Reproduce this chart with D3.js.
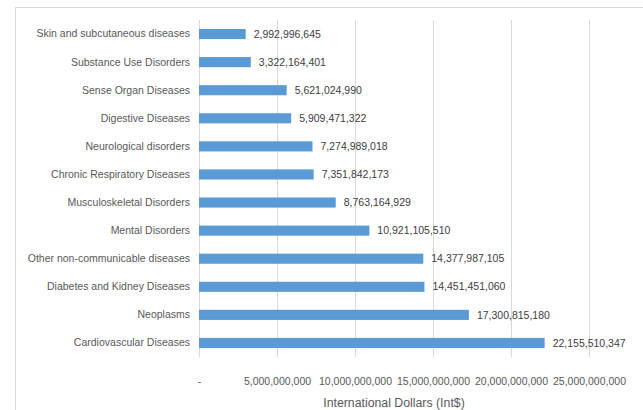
<!DOCTYPE html>
<html><head><meta charset="utf-8">
<script src="https://cdn.jsdelivr.net/npm/d3@7"></script>
<style>body{margin:0;background:#fff}svg{display:block}</style>
</head><body>
<svg id="c" width="643" height="410"></svg>
<script>
const categories = ["Skin and subcutaneous diseases","Substance Use Disorders","Sense Organ Diseases","Digestive Diseases","Neurological disorders","Chronic Respiratory Diseases","Musculoskeletal Disorders","Mental Disorders","Other non-communicable diseases","Diabetes and Kidney Diseases","Neoplasms","Cardiovascular Diseases"];
const values = [2992996645,3322164401,5621024990,5909471322,7274989018,7351842173,8763164929,10921105510,14377987105,14451451060,17300815180,22155510347];
const tickValues = [0,5000000000,10000000000,15000000000,20000000000,25000000000];
const tickLabels = ["-","5,000,000,000","10,000,000,000","15,000,000,000","20,000,000,000","25,000,000,000"];
const axisTitle = "International Dollars (Int$)";

const svg = d3.select("#c");
const font = "'Liberation Sans', Arial, sans-serif";
const txt = "#595959";

svg.append("rect").attr("x",15.5).attr("y",7.5).attr("width",700).attr("height",500)
  .attr("fill","none").attr("stroke","#d9d9d9");

const x = d3.scaleLinear().domain([0,25000000000]).range([199,589]);
const y = d3.scaleBand().domain(categories).range([20,357]).paddingInner(0.64).paddingOuter(0.32);

svg.append("g").selectAll("line").data(tickValues).join("line")
  .attr("x1",d=>Math.round(x(d))+0.5).attr("x2",d=>Math.round(x(d))+0.5)
  .attr("y1",20).attr("y2",357).attr("stroke","#d9d9d9").attr("stroke-width",1);

const xAxis = d3.axisBottom(x).tickValues(tickValues).tickFormat((d,i)=>tickLabels[i]).tickSize(0).tickPadding(0);
const gx = svg.append("g").attr("transform","translate(0,381)").call(xAxis);
gx.select(".domain").remove();
gx.selectAll("text").attr("fill",txt).attr("font-family",font).attr("font-size","10.5px").attr("dy","0.35em").attr("y",0);

const yAxis = d3.axisLeft(y).tickSize(0).tickPadding(9);
const gy = svg.append("g").attr("transform","translate(199,0)").call(yAxis);
gy.select(".domain").remove();
gy.selectAll("text").attr("fill",txt).attr("font-family",font).attr("font-size","10.5px");

svg.append("g").selectAll("rect").data(values).join("rect")
  .attr("x",x(0)).attr("y",(d,i)=>y(categories[i]))
  .attr("width",d=>x(d)-x(0)).attr("height",y.bandwidth())
  .attr("fill","#5b9bd5");

svg.append("g").selectAll("text").data(values).join("text")
  .attr("x",d=>x(d)+8).attr("y",(d,i)=>y(categories[i])+y.bandwidth()/2)
  .attr("dy","0.35em").attr("fill","#404040").attr("font-family",font).attr("font-size","10.5px")
  .text(d=>d3.format(",")(d));

svg.append("text").attr("x",394).attr("y",403).attr("dy","0.35em").attr("text-anchor","middle")
  .attr("fill",txt).attr("font-family",font).attr("font-size","12.3px").text(axisTitle);
</script>
</body></html>
